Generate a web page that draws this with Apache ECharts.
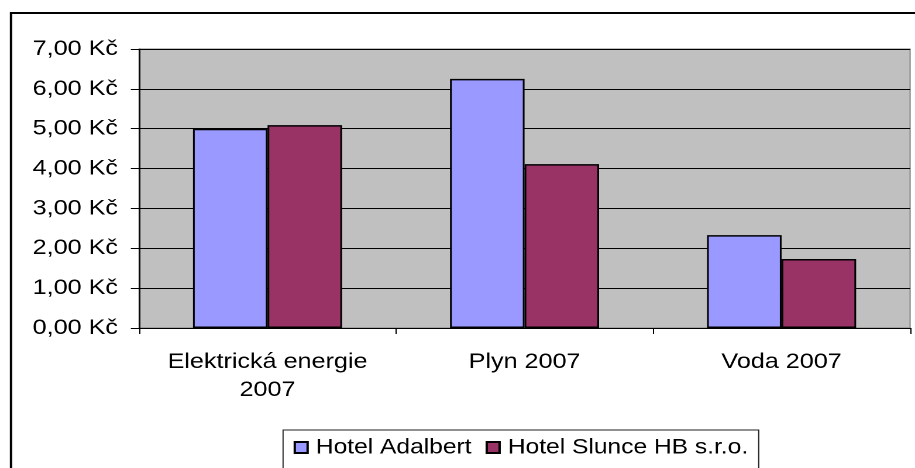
<!DOCTYPE html>
<html>
<head>
<meta charset="utf-8">
<script src="https://cdn.jsdelivr.net/npm/echarts@6/dist/echarts.min.js"></script>
<style>
  html, body { margin: 0; padding: 0; background: #fff; overflow: hidden; }
  /* the source picture is stretched horizontally, so the chart is drawn narrower and scaled */
  #chart {
    width: 782px;
    height: 468px;
    transform: scaleX(1.1701);
    transform-origin: 0 0;
  }
</style>
</head>
<body>
<div id="chart"></div>
<script>
// data
const categories = ['Elektrická energie\n2007', 'Plyn 2007', 'Voda 2007']
const seriesNames = ['Hotel Adalbert', 'Hotel Slunce HB s.r.o.']
const adalbert = [5.00, 6.25, 2.33]
const slunce = [5.09, 4.11, 1.73]
const yTicks = { min: 0, max: 7, interval: 1 }

const colors = ['#9999ff', '#993366']
const font = "'Liberation Sans', Arial, sans-serif"

const chart = echarts.init(document.getElementById('chart'), null, {
  renderer: 'canvas',
  devicePixelRatio: 2
})

function fmtKc(v) {
  return v.toFixed(2).replace('.', ',') + ' Kč'
}

const option = {
  backgroundColor: '#fff',
  animation: false,
  textStyle: { fontFamily: font },
  graphic: [
    {
      type: 'rect',
      shape: { x: 9.4, y: 13, width: 2000, height: 1000 },
      style: { fill: 'none', stroke: '#000', lineWidth: 2 },
      z: 100
    }
  ],
  grid: {
    left: 118.8,
    right: 4.2,
    top: 49,
    bottom: 140,
    show: true,
    backgroundColor: '#c0c0c0',
    borderColor: '#808080',
    borderWidth: 1
  },
  legend: {
    data: seriesNames,
    left: 241.9,
    top: 430,
    orient: 'horizontal',
    padding: [7, 9, 40, 9],
    itemWidth: 11,
    itemHeight: 11,
    itemGap: 12,
    icon: 'rect',
    borderColor: '#222',
    borderWidth: 1,
    textStyle: { color: '#000', fontSize: 21, fontFamily: font, padding: [0, 0, 0, 2] }
  },
  xAxis: {
    type: 'category',
    data: categories,
    axisLine: { show: true, lineStyle: { color: '#000', width: 1 } },
    axisTick: { show: true, length: 6, lineStyle: { color: '#000' } },
    axisLabel: {
      color: '#000',
      fontSize: 21.5,
      fontFamily: font,
      lineHeight: 28,
      margin: 20,
      interval: 0
    },
    splitLine: { show: false }
  },
  yAxis: {
    type: 'value',
    min: yTicks.min,
    max: yTicks.max,
    interval: yTicks.interval,
    axisLine: { show: true, lineStyle: { color: '#000', width: 1 } },
    axisTick: { show: true, length: 7, lineStyle: { color: '#000' } },
    axisLabel: {
      color: '#000',
      fontSize: 21.5,
      fontFamily: font,
      margin: 18,
      formatter: fmtKc
    },
    splitLine: { show: true, lineStyle: { color: '#000', width: 1 } }
  },
  series: [
    {
      name: seriesNames[0],
      type: 'bar',
      data: adalbert,
      barGap: '0%',
      barCategoryGap: '42%',
      itemStyle: { color: colors[0], borderColor: '#000', borderWidth: 1.5 }
    },
    {
      name: seriesNames[1],
      type: 'bar',
      data: slunce,
      barGap: '0%',
      barCategoryGap: '42%',
      itemStyle: { color: colors[1], borderColor: '#000', borderWidth: 1.5 }
    }
  ]
}

chart.setOption(option)
</script>
</body>
</html>
